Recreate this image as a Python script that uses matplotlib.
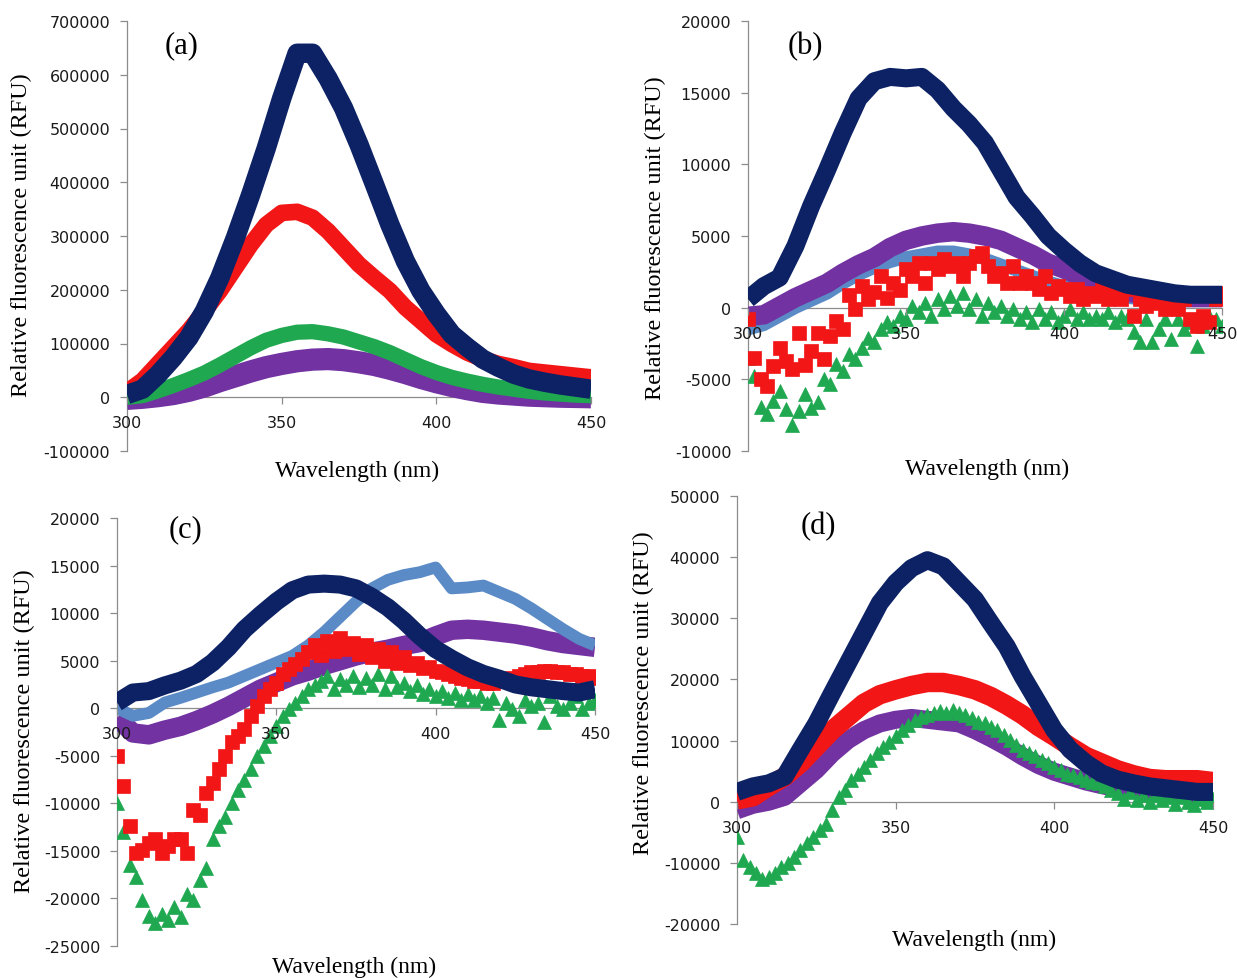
import numpy as np
import matplotlib
matplotlib.use("Agg")
import matplotlib.pyplot as plt
from matplotlib.ticker import StrMethodFormatter

plt.rcParams["axes.unicode_minus"] = False

# wavelength grids (nm): smooth bands read every 5 nm, noisy scatter every 2 nm
WL5 = list(range(300, 451, 5))
WL2 = list(range(300, 451, 2))

# colours used by the original spreadsheet series
NAVY = "#0c2264"
RED = "#f21616"
GREEN = "#1fa850"
PURPLE = "#7232a2"
LBLUE = "#5b8bc7"
AXIS_GREY = "#8c8c8c"

# ---- panel (a) ----
A_NAVY = [5000, 15000, 42000, 74000, 111000, 160000, 222000, 296000, 377000, 463000,
          556000, 640000, 640000, 593000, 538000, 470000, 396000, 321000, 253000, 198000,
          155000, 117000, 93000, 71000, 56000, 43000, 34000, 28000, 23000, 19000, 15000]
A_RED = [10000, 31000, 62000, 93000, 124000, 160000, 198000, 241000, 284000, 321000,
         343000, 345000, 334000, 309000, 278000, 247000, 222000, 198000, 167000, 142000,
         117000, 99000, 83000, 71000, 62000, 56000, 49000, 46000, 43000, 40000, 37000]
A_GREEN = [0, 3000, 12000, 22000, 33000, 45000, 60000, 76000, 92000, 106000,
           115000, 121000, 122000, 118000, 112000, 103000, 94000, 83000, 70000, 57000,
           46000, 37000, 30000, 24000, 19000, 15000, 11000, 8000, 6000, 4000, 3000]
A_PURPLE = [-3000, -1000, 2000, 6000, 12000, 20000, 30000, 39000, 48000, 56000,
            62000, 67000, 70000, 71000, 69000, 65000, 60000, 53000, 45000, 36000,
            28000, 21000, 15000, 10000, 7000, 5000, 3000, 2000, 1000, 500, 0]

# ---- panel (b) ----
B_NAVY = [600, 1500, 2100, 4300, 7100, 9600, 12200, 14600, 15800, 16100,
          16000, 16100, 15200, 13900, 12800, 11500, 9600, 7700, 6400, 5000,
          4000, 3100, 2400, 2000, 1600, 1400, 1200, 1000, 900, 900, 900]
B_PURPLE = [-600, -500, 100, 700, 1200, 1700, 2400, 3000, 3500, 4200,
            4700, 5000, 5200, 5300, 5200, 5000, 4700, 4200, 3700, 3100,
            2700, 2200, 1800, 1400, 1100, 900, 800, 700, 700, 700, 700]
B_LBLUE = [-1500, -1200, -600, 0, 500, 1000, 1700, 2300, 2800, 3200,
           3500, 3700, 3900, 3900, 3700, 3400, 3000, 2600, 2200, 1800,
           1500, 1200, 1000, 800, 700, 600, 500, 500, 500, 500, 500]
B_RED = [-800, -3500, -5000, -5500, -4100, -2800, -3700, -4300, -1800, -4000,
         -3000, -1800, -3600, -2000, -900, -1500, 900, -100, 1500, 600,
         1100, 2200, 700, 1700, 1200, 2700, 2200, 3100, 1700, 3100,
         2700, 3400, 2900, 3100, 2200, 3100, 3600, 3800, 2900, 2200,
         2400, 1700, 2900, 1700, 2200, 1700, 1300, 2200, 1000, 1500,
         1300, 800, 1300, 600, 1000, 800, 1500, 600, 1000, 600,
         1300, -600, 600, 100, 1000, 300, -100, 600, -100, 600,
         -800, -1300, -600, -1000, 600, 1000]
B_GREEN = [-3500, -4800, -6900, -7400, -6500, -5800, -7100, -8200, -7200, -6000,
           -7000, -6600, -5000, -5300, -3900, -4400, -3200, -3600, -2800, -2100,
           -2400, -1500, -1000, -1300, -600, -800, 100, -300, 300, -600,
           600, -100, 800, 100, 1000, -100, 600, -600, 300, -300,
           100, -600, -100, -800, -300, -1000, -100, -800, -300, -1000,
           -600, -100, -800, -300, -800, -600, -800, -300, -1000, -600,
           -800, -1700, -2400, -800, -2400, -1500, -800, -2200, -800, -1500,
           -1000, -2700, -1300, -600, -800, -1300]

# ---- panel (c) ----
C_NAVY = [600, 1650, 1800, 2400, 2900, 3600, 4800, 6400, 8300, 9800,
          11200, 12400, 13000, 13100, 13000, 12600, 11700, 10600, 9200, 7600,
          6200, 5200, 4300, 3600, 3100, 2500, 2200, 2000, 1800, 1650, 2000]
C_LBLUE = [0, -800, -500, 600, 1100, 1650, 2200, 2700, 3400, 4100,
           4800, 5500, 6600, 8000, 9600, 11200, 12600, 13500, 14000, 14300,
           14800, 12600, 12700, 12900, 12200, 11500, 10500, 9400, 8300, 7300, 6600]
C_PURPLE = [-1000, -2600, -2800, -2300, -1900, -1300, -600, 200, 1100, 2000,
            2700, 3400, 3900, 4500, 5000, 5500, 5900, 6200, 6600, 6900,
            7600, 8200, 8300, 8200, 8000, 7800, 7500, 7100, 6800, 6600, 6400]
C_RED = [-5000, -8200, -12400, -15200, -14900, -14200, -13800, -15200, -14500, -13800,
         -13800, -15200, -10700, -11200, -8900, -7900, -6400, -5000, -3600, -2900,
         -2200, -800, 200, 1300, 2000, 2700, 3600, 4100, 4600, 5200,
         5900, 6600, 5600, 7100, 6000, 7400, 6200, 6900, 5700, 6600,
         5400, 6200, 5000, 5900, 4800, 5400, 4500, 4800, 4200, 4300,
         3900, 3800, 3600, 3400, 3200, 3100, 2900, 2900, 2700, 2700,
         2900, 3100, 3200, 3400, 3600, 3800, 3800, 3900, 3900, 3800,
         3800, 3600, 3600, 3400, 3400, 3200]
C_GREEN = [-10000, -13000, -16500, -17700, -20200, -21800, -22600, -21600, -22300, -20900,
           -21900, -19500, -20200, -18100, -16800, -13800, -12400, -11400, -10000, -8600,
           -7500, -6400, -5000, -4000, -2900, -1900, -800, -100, 600, 1300,
           2000, 2400, 2900, 3400, 2000, 3100, 2400, 3400, 2200, 3200,
           2400, 3600, 2000, 3400, 2200, 2700, 1800, 2400, 1500, 2000,
           1300, 1800, 1100, 1600, 900, 1500, 900, 1300, 600, 1100,
           -1200, 600, -100, -800, 900, 200, 600, -1500, 1300, 200,
           -100, 600, 1300, -100, 600, 900]

# ---- panel (d) ----
D_NAVY = [1600, 2500, 3000, 4100, 8500, 12800, 17800, 22700, 27600, 32500,
          35800, 38200, 39500, 38500, 35800, 33100, 29200, 25400, 20500, 16100,
          11700, 8500, 6300, 4600, 3600, 3000, 2500, 2200, 1900, 1600, 1600]
D_RED = [300, 800, 2500, 4100, 6300, 9000, 11700, 13900, 16100, 17500,
         18300, 19000, 19500, 19500, 19000, 18300, 17200, 15800, 14200, 12300,
         10700, 9000, 7400, 6300, 5200, 4400, 3800, 3600, 3600, 3600, 3300]
D_PURPLE = [-1400, -500, 0, 800, 3000, 5200, 7900, 10100, 11700, 12800,
            13400, 13700, 13400, 13100, 12800, 11700, 10400, 9000, 7400, 6000,
            4900, 4100, 3300, 2700, 2200, 1900, 1600, 1400, 1100, 1100, 1100]
D_GREEN = [-5700, -9600, -10700, -11700, -12600, -12300, -11700, -10700, -10100, -9000,
           -7900, -6800, -5700, -4600, -3600, -1400, 800, 1900, 3600, 4600,
           5700, 6800, 7900, 9000, 9800, 10700, 11700, 12600, 13400, 13900,
           14200, 14500, 14800, 14500, 15000, 14500, 14200, 13700, 13100, 12800,
           12300, 11700, 10900, 10100, 9300, 8500, 7900, 7400, 6800, 6300,
           5700, 5200, 4600, 4400, 4100, 3600, 3300, 3000, 2500, 1900,
           1400, 500, 1600, 300, 1100, 0, 1100, 300, 800, -300,
           800, 0, -500, 500, 0, 500]

XTICKS = [300, 350, 400, 450]
XLABEL = "Wavelength (nm)"
YLABEL = "Relative fluorescence unit (RFU)"

W, H = 1237, 979
fig = plt.figure(figsize=(W / 100, H / 100), dpi=100)


def px_axes(x0, x1, y0, y1):
    # pixel box of the plot area -> figure fraction
    return fig.add_axes([x0 / W, 1 - y1 / H, (x1 - x0) / W, (y1 - y0) / H])


def band(ax, x, y, color, lw, z):
    ax.plot(x, y, color=color, lw=lw, solid_joinstyle="round",
            solid_capstyle="butt", zorder=z)


def dots(ax, x, y, color, marker, ms, z):
    ax.plot(x, y, ls="none", marker=marker, ms=ms, color=color,
            mec=color, mew=0.5, zorder=z)


def style(ax, ylo, yhi, ystep):
    ax.set_xlim(300, 450)
    ax.set_ylim(ylo, yhi)
    ax.set_xticks(XTICKS)
    ax.set_yticks(np.arange(ylo, yhi + 1, ystep))
    ax.yaxis.set_major_formatter(StrMethodFormatter("{x:.0f}"))
    for s in ["top", "right"]:
        ax.spines[s].set_visible(False)
    ax.spines["left"].set_color(AXIS_GREY)
    ax.spines["left"].set_linewidth(0.9)
    ax.spines["bottom"].set_position(("data", 0))
    ax.spines["bottom"].set_color(AXIS_GREY)
    ax.spines["bottom"].set_linewidth(0.9)
    ax.spines["bottom"].set_zorder(1)
    ax.spines["left"].set_zorder(1)
    ax.tick_params(axis="both", direction="out", length=5, width=0.9,
                   color=AXIS_GREY, labelsize=11.5, labelcolor="#1a1a1a")
    ax.tick_params(axis="y", pad=7)
    ax.tick_params(axis="x", pad=8)
    ax.xaxis.set_zorder(5)
    ax.patch.set_visible(False)


serif = "Liberation Serif"

def labels(ax, tag, tag_xy, xl_xy, yl_xy):
    fig.text(tag_xy[0] / W, 1 - tag_xy[1] / H, tag, family=serif, fontsize=22,
             ha="center", va="center")
    fig.text(xl_xy[0] / W, 1 - xl_xy[1] / H, XLABEL, family=serif, fontsize=17,
             ha="center", va="center")
    fig.text(yl_xy[0] / W, 1 - yl_xy[1] / H, YLABEL, family=serif, fontsize=17.5,
             ha="center", va="center", rotation=90)


# (a)
ax = px_axes(127, 591, 22, 452)
band(ax, WL5, A_PURPLE, PURPLE, 16, 2.0)
band(ax, WL5, A_GREEN, GREEN, 11, 2.1)
band(ax, WL5, A_RED, RED, 12, 2.2)
band(ax, WL5, A_NAVY, NAVY, 14, 2.3)
style(ax, -100000, 700000, 100000)
labels(ax, "(a)", (182, 46), (357, 471), (21, 235))

# (b)
ax = px_axes(748, 1222, 22, 452)
band(ax, WL5, B_LBLUE, LBLUE, 9, 2.0)
band(ax, WL5, B_PURPLE, PURPLE, 14, 2.05)
dots(ax, WL2, B_GREEN, GREEN, "^", 10, 2.1)
dots(ax, WL2, B_RED, RED, "s", 10, 2.2)
band(ax, WL5, B_NAVY, NAVY, 13, 2.3)
style(ax, -10000, 20000, 5000)
labels(ax, "(b)", (805, 47), (987, 469), (655, 238))

# (c)
ax = px_axes(117, 595, 519, 947)
band(ax, WL5, C_PURPLE, PURPLE, 14, 2.0)
band(ax, WL5, C_LBLUE, LBLUE, 8.5, 2.05)
dots(ax, WL2, C_GREEN, GREEN, "^", 10, 2.1)
dots(ax, WL2, C_RED, RED, "s", 10, 2.2)
band(ax, WL5, C_NAVY, NAVY, 13, 2.3)
style(ax, -25000, 20000, 5000)
labels(ax, "(c)", (186, 530), (354, 967), (24, 731))

# (d)
ax = px_axes(737, 1213, 497, 925)
band(ax, WL5, D_PURPLE, PURPLE, 13, 2.0)
dots(ax, WL2, D_GREEN, GREEN, "^", 10, 2.1)
band(ax, WL5, D_RED, RED, 14, 2.2)
band(ax, WL5, D_NAVY, NAVY, 13, 2.3)
style(ax, -20000, 50000, 10000)
labels(ax, "(d)", (818, 527), (974, 940), (643, 693))

fig.savefig("out.png", dpi=100)
